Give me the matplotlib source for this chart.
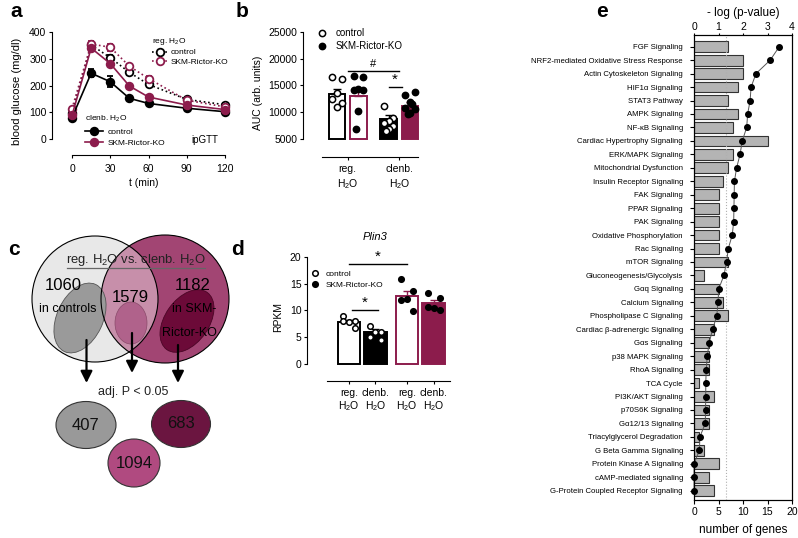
import numpy as np
import matplotlib
matplotlib.use("Agg")
import matplotlib.pyplot as plt
from matplotlib.lines import Line2D
from matplotlib.patches import Ellipse, Circle

#--------------------- fonts / style ---------------------
plt.rcParams['font.family'] = ['Liberation Sans', 'DejaVu Sans']
plt.rcParams['mathtext.fontset'] = 'custom'
plt.rcParams['mathtext.rm'] = 'Liberation Sans'
plt.rcParams['mathtext.it'] = 'Liberation Sans:italic'
plt.rcParams['mathtext.bf'] = 'Liberation Sans:bold'
plt.rcParams['axes.linewidth'] = 0.8
plt.rcParams['xtick.major.width'] = 0.8
plt.rcParams['ytick.major.width'] = 0.8
plt.rcParams['xtick.major.size'] = 2.5
plt.rcParams['ytick.major.size'] = 2.5
plt.rcParams['xtick.major.pad'] = 1.5
plt.rcParams['ytick.major.pad'] = 1.5

H2O = 'H$_2$O'
MAROON = '#8c1c4c'

#--------------------- data ---------------------
# a: ipGTT
t_min = [0, 15, 30, 45, 60, 90, 120]
reg_ctrl = [97, 352, 304, 249, 204, 148, 128]
reg_ctrl_sem = [5, 12, 10, 10, 8, 5, 5]
reg_ko = [114, 355, 343, 272, 226, 145, 120]
reg_ko_sem = [5, 12, 14, 10, 8, 5, 5]
clen_ctrl = [80, 246, 214, 152, 133, 115, 102]
clen_ctrl_sem = [4, 14, 20, 6, 6, 5, 4]
clen_ko = [88, 340, 282, 198, 157, 127, 110]
clen_ko_sem = [4, 10, 8, 6, 6, 5, 4]

# b: AUC
auc_groups = ['reg.\n' + H2O, 'clenb.\n' + H2O]
auc_means = [13500, 13100, 8800, 11200]
auc_sem = [900, 1000, 800, 700]
auc_pts = [[16500, 16200, 13600, 12500, 11800, 11000],
           [16800, 16500, 14300, 14100, 14200, 10200, 7000],
           [11200, 9000, 8400, 8000, 7400, 6900, 6600],
           [13200, 13700, 12000, 10900, 10700, 9800, 9700, 11500]]

# c: venn
venn_counts = [1060, 1579, 1182]
sig_counts = [407, 1094, 683]

# d: Plin3
plin_labels = ['reg.\n' + H2O, 'clenb.\n' + H2O, 'reg.\n' + H2O, 'clenb.\n' + H2O]
plin_means = [7.9, 6.0, 12.7, 11.3]
plin_sem = [0.4, 0.5, 1.0, 0.6]
plin_pts = [[9.0, 8.1, 7.9, 8.0, 6.8],
            [7.1, 6.0, 5.9, 5.1, 4.5],
            [15.8, 13.7, 12.2, 12.0, 9.8],
            [13.2, 12.3, 10.4, 10.6, 10.0]]

# e: pathways
pathways = ['FGF Signaling', 'NRF2-mediated Oxidative Stress Response',
            'Actin Cytoskeleton Signaling', 'HIF1\u03b1 Signaling', 'STAT3 Pathway',
            'AMPK Signaling', 'NF-\u03baB Signaling', 'Cardiac Hypertrophy Signaling',
            'ERK/MAPK Signaling', 'Mitochondrial Dysfunction', 'Insulin Receptor Signaling',
            'FAK Signaling', 'PPAR Signaling', 'PAK Signaling', 'Oxidative Phosphorylation',
            'Rac Signaling', 'mTOR Signaling', 'Gluconeogenesis/Glycolysis',
            'G\u03b1q Signaling', 'Calcium Signaling', 'Phospholipase C Signaling',
            'Cardiac \u03b2-adrenergic Signaling', 'G\u03b1s Signaling', 'p38 MAPK Signaling',
            'RhoA Signaling', 'TCA Cycle', 'PI3K/AKT Signaling', 'p70S6K Signaling',
            'G\u03b112/13 Signaling', 'Triacylglycerol Degradation', 'G Beta Gamma Signaling',
            'Protein Kinase A Signaling', 'cAMP-mediated signaling',
            'G-Protein Coupled Receptor Signaling']
n_genes = [7, 10, 10, 9, 7, 9, 8, 15, 8, 7, 6, 5, 5, 5, 5, 5, 7, 2, 5, 6, 7, 4, 3, 3, 3,
           1, 4, 3, 3, 1, 2, 5, 3, 4]
neg_log_p = [3.48, 3.11, 2.53, 2.33, 2.29, 2.19, 2.15, 1.97, 1.88, 1.74, 1.65, 1.64, 1.63,
             1.62, 1.56, 1.40, 1.33, 1.22, 1.01, 0.98, 0.93, 0.76, 0.62, 0.54, 0.50, 0.48,
             0.48, 0.47, 0.46, 0.24, 0.22, 0.0, 0.0, 0.0]

#--------------------- helpers ---------------------
W, H = 798, 538
fig = plt.figure(figsize=(W / 100, H / 100), dpi=100)


def px_axes(x0, y0, x1, y1):
    return fig.add_axes([x0 / W, 1 - y1 / H, (x1 - x0) / W, (y1 - y0) / H])


def prism(ax):
    ax.spines['top'].set_visible(False)
    ax.spines['right'].set_visible(False)
    ax.tick_params(labelsize=7.5)


def swarm(n):
    pattern = [-0.22, 0.22, 0.0, -0.22, 0.22, 0.0, -0.11, 0.11]
    return np.array(pattern[:n])


for letter, (lx, ly) in zip('abcde', [(10, 2), (236, 2), (8, 240), (231, 240), (596, 2)]):
    fig.text(lx / W, 1 - ly / H, letter, fontsize=15, fontweight='bold', va='top')

#--------------------- a ---------------------
ax = px_axes(52, 28, 235, 155)
series = [(reg_ctrl, reg_ctrl_sem, 'black', ':', 'white', 'control'),
          (reg_ko, reg_ko_sem, MAROON, ':', 'white', 'SKM-Rictor-KO'),
          (clen_ctrl, clen_ctrl_sem, 'black', '-', 'black', 'control'),
          (clen_ko, clen_ko_sem, MAROON, '-', MAROON, 'SKM-Rictor-KO')]
handles = []
for vals, sem, col, ls, fc, lab in series:
    ax.errorbar(t_min, vals, yerr=sem, color=col, ls=ls, lw=1.2, marker='o', ms=5.5,
                mfc=fc, mec=col, mew=1.3, capsize=2.5, elinewidth=1, clip_on=False)
    handles.append(Line2D([], [], color=col, ls=ls, lw=1.2, marker='o', ms=5.5,
                          mfc=fc, mec=col, mew=1.3, label=lab))
ax.set_xlim(-15.7, 127.8)
ax.set_ylim(-59.8, 415)
prism(ax)
ax.spines['left'].set_bounds(0, 400)
ax.spines['bottom'].set_bounds(0, 120)
ax.set_xticks([0, 30, 60, 90, 120])
ax.set_yticks([0, 100, 200, 300, 400])
ax.tick_params(axis='x', pad=4)
ax.set_xlabel('t (min)', fontsize=7.5, labelpad=3)
ax.set_ylabel('blood glucose (mg/dl)', fontsize=8, labelpad=5)
ax.text(114.5, -3, 'ipGTT', fontsize=7, ha='right', va='center')
leg1 = ax.legend(handles=handles[:2], title='reg. ' + H2O, loc='upper left',
                 bbox_to_anchor=(152 / W, 1 - 36 / H), bbox_transform=fig.transFigure,
                 frameon=False, fontsize=6, title_fontsize=6, alignment='left',
                 borderpad=0, borderaxespad=0, handlelength=1.8, handletextpad=0.4,
                 labelspacing=0.2)
ax.add_artist(leg1)
ax.legend(handles=handles[2:], title='clenb. ' + H2O, loc='upper left',
          bbox_to_anchor=(85 / W, 1 - 114 / H), bbox_transform=fig.transFigure,
          frameon=False, fontsize=6, title_fontsize=6, alignment='left',
          borderpad=0, borderaxespad=0, handlelength=2.2, handletextpad=0.5,
          labelspacing=0.45)

#--------------------- b ---------------------
ax = px_axes(303, 28, 420, 157)
xb = [0, 1, 2.4, 3.4]
bar_fc = ['white', 'white', 'black', MAROON]
bar_ec = ['black', MAROON, 'black', MAROON]
pt_fc = ['white', 'black', 'white', 'black']
for i in range(4):
    ax.bar(xb[i], auc_means[i] - 5000, bottom=5000, width=0.78, color=bar_fc[i],
           edgecolor=bar_ec[i], lw=1.4, zorder=1)
    ax.errorbar(xb[i], auc_means[i], yerr=[[0], [auc_sem[i]]], color=bar_ec[i],
                capsize=3, lw=1, zorder=2)
    ax.plot(xb[i] + swarm(len(auc_pts[i])), auc_pts[i], 'o', ms=4.5, mfc=pt_fc[i],
            mec='black', mew=1.1, zorder=3, clip_on=False)
ax.set_xlim(-1.58, 3.86)
ax.set_ylim(1700, 25690)
prism(ax)
ax.spines['left'].set_bounds(5000, 25000)
ax.spines['bottom'].set_bounds(-0.7, 3.77)
ax.set_yticks([5000, 10000, 15000, 20000, 25000])
ax.set_xticks([0.5, 2.9])
ax.set_xticklabels(auc_groups, fontsize=7.5, linespacing=1.3)
ax.tick_params(axis='x', length=2, pad=3)
ax.set_ylabel('AUC (arb. units)', fontsize=7.5, labelpad=4)
ax.plot([0.5, 2.9], [17730, 17730], color='black', lw=1)
ax.text(1.7, 18100, '#', fontsize=8, ha='center', va='bottom')
ax.plot([2.4, 3.0], [14690, 14690], color='black', lw=1)
ax.text(2.7, 14800, '*', fontsize=11, ha='center', va='bottom')
hb = [Line2D([], [], ls='none', marker='o', ms=4.5, mfc='white', mec='black', mew=1.1,
             label='control'),
      Line2D([], [], ls='none', marker='o', ms=4.5, mfc='black', mec='black', mew=1.1,
             label='SKM-Rictor-KO')]
ax.legend(handles=hb, loc='upper left', bbox_to_anchor=(317 / W, 1 - 28 / H),
          bbox_transform=fig.transFigure, frameon=False, fontsize=7, borderpad=0,
          borderaxespad=0, handlelength=1, handletextpad=0.9, labelspacing=0.3)

#--------------------- c ---------------------
ax = fig.add_axes([0, 0, 230 / W, 313 / H])
ax.set_xlim(0, 230)
ax.set_ylim(538, 225)
ax.axis('off')
ax.add_patch(Circle((95, 299), 63, fc='#dadada', ec='none'))
ax.add_patch(Circle((165, 299), 64, fc='#a24573', ec='none'))
ax.add_patch(Circle((95, 299), 63, fc='white', ec='none', alpha=0.4))
ax.add_patch(Ellipse((80, 318), 46, 74, angle=25, fc='#9a9a9a', ec='#555555', lw=0.6))
ax.add_patch(Ellipse((131, 323), 32, 42, angle=0, fc='#b0628b', ec='#8a4a6a', lw=0.5))
ax.add_patch(Ellipse((187, 321), 44, 70, angle=35, fc='#6c0a38', ec='#4a0525', lw=0.6))
ax.add_patch(Circle((95, 299), 63, fc='none', ec='black', lw=0.8))
ax.add_patch(Circle((165, 299), 64, fc='none', ec='black', lw=0.8))
ax.text(136, 260, 'reg. ' + H2O + ' vs. clenb. ' + H2O, fontsize=9.4, ha='center',
        va='center', color='#222222')
ax.plot([67, 205], [268, 268], color='#666666', lw=0.9)
ax.text(63, 286, str(venn_counts[0]), fontsize=12, ha='center', va='center')
ax.text(130, 297, str(venn_counts[1]), fontsize=12, ha='center', va='center')
ax.text(193, 286, str(venn_counts[2]), fontsize=12, ha='center', va='center')
ax.text(68, 309, 'in controls', fontsize=9, ha='center', va='center')
ax.text(194, 309, 'in SKM-', fontsize=9, ha='center', va='center')
ax.text(189, 333, 'Rictor-KO', fontsize=9, ha='center', va='center')
for x0, y0, y1 in [(86.5, 340, 383), (132, 333, 373), (178, 345, 383)]:
    ax.annotate('', xy=(x0, y1), xytext=(x0, y0),
                arrowprops=dict(arrowstyle='-|>,head_length=0.7,head_width=0.35',
                                color='black', lw=1.6, shrinkA=0, shrinkB=0))
ax.text(133, 392, 'adj. P < 0.05', fontsize=9, ha='center', va='center', color='#222222')
for (cx, cy, w, h, fc), n in zip([(86, 425, 60, 47, '#999999'), (134, 463, 52, 48, '#b04a80'),
                                 (181, 424, 59, 47, '#6b1540')], sig_counts):
    ax.add_patch(Ellipse((cx, cy), w, h, fc=fc, ec='#333333', lw=0.8))
    ax.text(cx, cy, str(n), fontsize=12, ha='center', va='center', color='#111111')

#--------------------- d ---------------------
ax = px_axes(307, 252, 452, 381)
xd = [0, 1, 2.2, 3.2]
d_fc = ['white', 'black', 'white', MAROON]
d_ec = ['black', 'black', MAROON, MAROON]
d_pt = ['white', 'white', 'black', 'black']
for i in range(4):
    ax.bar(xd[i], plin_means[i], width=0.85, color=d_fc[i], edgecolor=d_ec[i], lw=1.4,
           zorder=1)
    ax.errorbar(xd[i], plin_means[i], yerr=[[0], [plin_sem[i]]], color=d_ec[i],
                capsize=3, lw=1, zorder=2)
    ax.plot(xd[i] + swarm(len(plin_pts[i])), plin_pts[i], 'o', ms=4, mfc=d_pt[i],
            mec='black', mew=1.1, zorder=3)
ax.set_xlim(-1.585, 3.89)
ax.set_ylim(-3.17, 20.9)
prism(ax)
ax.spines['left'].set_bounds(0, 20)
ax.spines['bottom'].set_bounds(-0.83, 3.81)
ax.set_yticks([0, 5, 10, 15, 20])
ax.set_xticks(xd)
ax.set_xticklabels(plin_labels, fontsize=7.5, linespacing=1.1)
ax.tick_params(axis='x', length=2, pad=3)
ax.set_ylabel('RPKM', fontsize=7.5, labelpad=5)
ax.plot([0, 2.2], [18.6, 18.6], color='black', lw=1)
ax.text(1.1, 18.7, '*', fontsize=11, ha='center', va='bottom')
ax.plot([0.1, 1.1], [10.1, 10.1], color='black', lw=1)
ax.text(0.6, 10.2, '*', fontsize=11, ha='center', va='bottom')
fig.text(375 / W, 1 - 237 / H, 'Plin3', fontsize=8, style='italic', ha='center',
         va='center')
hd = [Line2D([], [], ls='none', marker='o', ms=4, mfc='white', mec='black', mew=1.1,
             label='control'),
      Line2D([], [], ls='none', marker='o', ms=4, mfc='black', mec='black', mew=1.1,
             label='SKM-Rictor-KO')]
ax.legend(handles=hd, loc='upper left', bbox_to_anchor=(311 / W, 1 - 270 / H),
          bbox_transform=fig.transFigure, frameon=False, fontsize=6, borderpad=0,
          borderaxespad=0, handlelength=1, handletextpad=0.7, labelspacing=0.35)

#--------------------- e ---------------------
ax = px_axes(694, 35, 792, 500)
y = np.arange(len(pathways))
ax.barh(y, n_genes, height=0.8, color='#b4b4b4', edgecolor='#333333', lw=0.8)
ax.set_xlim(0, 20)
ax.set_ylim(len(pathways) - 1 + 0.69, -0.87)
ax.set_yticks(y)
ax.set_yticklabels(pathways, fontsize=5.6)
ax.set_xticks([0, 5, 10, 15, 20])
ax.tick_params(axis='x', labelsize=7.5, length=3, pad=2)
ax.tick_params(axis='y', length=3, pad=5)
ax.set_xlabel('number of genes', fontsize=8.5, labelpad=5)
ax2 = ax.twiny()
ax2.set_xlim(0, 4)
ax2.axvline(1.3, color='#b0b0b0', ls=':', lw=0.8, zorder=0)
ax2.plot(neg_log_p, y, '-', color='#555555', lw=0.7, marker='o', ms=4, mfc='black',
         mec='black', clip_on=False)
ax2.set_xticks([0, 1, 2, 3, 4])
ax2.tick_params(axis='x', labelsize=7.5, length=1.5, pad=1)
ax2.set_xlabel('- log (p-value)', fontsize=8.5, labelpad=4)

fig.savefig('out.png', dpi=100)
